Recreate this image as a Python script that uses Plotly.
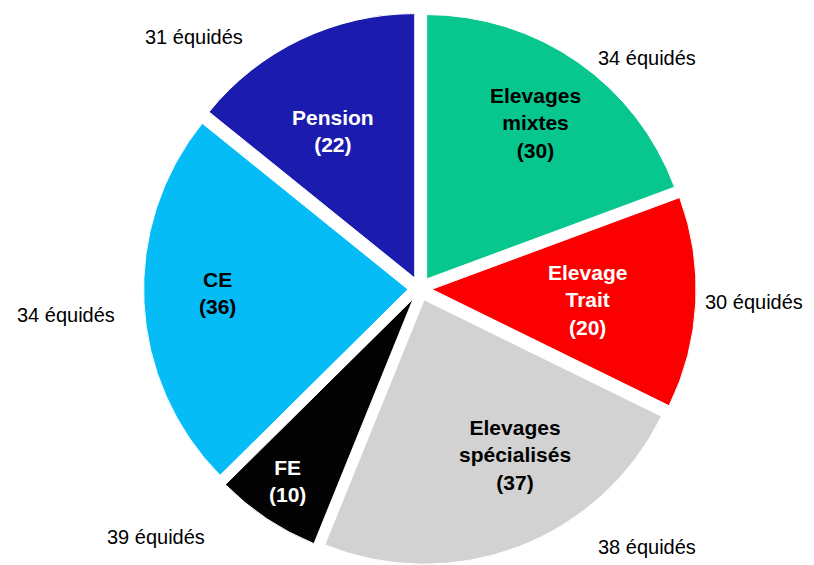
import plotly.graph_objects as go

labels = ["Elevages<br>mixtes", "Elevage<br>Trait", "Elevages<br>spécialisés", "FE", "CE", "Pension"]
values = [30, 20, 37, 10, 36, 22]
equides = [34, 30, 38, 39, 34, 31]

colors = ["#07C68E", "#FA0000", "#D2D2D2", "#030303", "#05BCF6", "#1B1BAE"]
text_colors = ["black", "white", "black", "white", "black", "white"]

# label positions in page pixels (layout only)
inside_pos = [(535, 123), (587, 300), (515, 455), (287, 481), (217, 293), (333, 131)]
outside_pos = [(647, 58), (754, 302), (647, 547), (156, 537), (66, 315), (194, 37)]

# the page body has an 8px margin, so the figure is drawn 8px in from the corner
OFF = 8
W, H = 814 - OFF, 565 - OFF
FONT = "Liberation Sans, Arial"


def to_paper(px, py):
    return (px - OFF) / W, 1 - (py - OFF) / H


fig = go.Figure(go.Pie(
    labels=labels,
    values=values,
    sort=False,
    direction="clockwise",
    rotation=0,
    pull=[0.045] * len(values),
    marker=dict(colors=colors, line=dict(color="white", width=1)),
    textinfo="none",
    hoverinfo="label+value",
    domain=dict(x=[0.166, 0.856], y=[0.0, 0.992]),
    showlegend=False,
))

for lab, val, eq, col, ip, op in zip(labels, values, equides, text_colors,
                                     inside_pos, outside_pos):
    ix, iy = to_paper(*ip)
    ox, oy = to_paper(*op)
    fig.add_annotation(x=ix, y=iy, xref="paper", yref="paper",
                       xanchor="center", yanchor="middle",
                       text=f"<b>{lab}<br>({val})</b>", showarrow=False,
                       font=dict(family=FONT, size=21, color=col))
    fig.add_annotation(x=ox, y=oy, xref="paper", yref="paper",
                       xanchor="center", yanchor="middle",
                       text=f"{eq} équidés", showarrow=False,
                       font=dict(family=FONT, size=20, color="black"))

fig.update_layout(width=W, height=H, margin=dict(l=0, r=0, t=0, b=0),
                  plot_bgcolor="white", paper_bgcolor="white")
fig.write_html("out.html")
